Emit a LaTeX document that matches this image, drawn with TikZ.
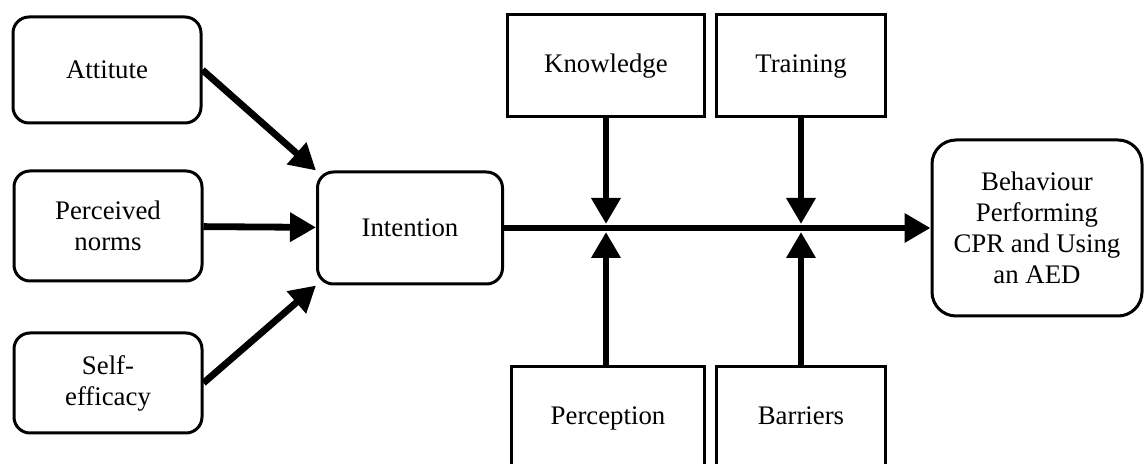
\documentclass[tikz,border=0pt]{standalone}
\usepackage{fontspec}
\setmainfont{Liberation Serif}
\usetikzlibrary{arrows.meta,positioning}
\tikzset{
    x=0.5pt,y=-0.5pt,
    >={Triangle[length=13pt,width=14pt]},
    base/.style ={rectangle, draw, line width=1.5pt, inner sep=0pt, align=center,
                 font=\fontsize{13.4}{15.5}\selectfont},
    box/.style ={base, text height=9.5pt, text depth=3pt},
    rbox/.style ={base, rounded corners=8pt},
    arr/.style = {->, line width=3.4pt}
}

\begin{document}
\begin{tikzpicture}
      \clip (0,0) rectangle (1147,464);
      \node[rbox, minimum width=94pt, minimum height=53pt] (att) at (107,70) {Attitute};
      \node[rbox, minimum width=94pt, minimum height=55pt] (norms) at (108,226) {Perceived\\norms};
      \node[rbox, minimum width=94pt, minimum height=50pt] (self) at (108,383) {Self-\\efficacy};
      \node[rbox, minimum width=92.5pt, minimum height=56pt] (int) at (410,228) {Intention};
      \node[box, minimum width=98.5pt, minimum height=51pt] (know) at (606,66) {Knowledge};
      \node[box, minimum width=84.5pt, minimum height=51pt] (train) at (801,66) {Training};
      \node[box, minimum width=96.5pt, minimum height=51pt] (perc) at (608,418) {Perception};
      \node[box, minimum width=84.5pt, minimum height=51pt] (barr) at (801,418) {Barriers};
      \node[rbox, rounded corners=12pt, minimum width=105pt, minimum height=88pt] (beh) at (1037,228)
            {Behaviour\\Performing\\CPR and Using\\an AED};

      \coordinate (kt) at (606,224);
      \coordinate (pt) at (606,232);
      \coordinate (tt) at (801,224);
      \coordinate (bt) at (801,232);

      \draw[arr] (att.east) -- (int.north west);
      \draw[arr] (norms) -- (int);
      \draw[arr] (self.east) -- (int.south west);
      \draw[arr] (int) -- (beh);
      \draw[arr] (know) -- (kt);
      \draw[arr] (perc.north -| pt) -- (pt);
      \draw[arr] (train) -- (tt);
      \draw[arr] (barr) -- (bt);
\end{tikzpicture}
\end{document}
